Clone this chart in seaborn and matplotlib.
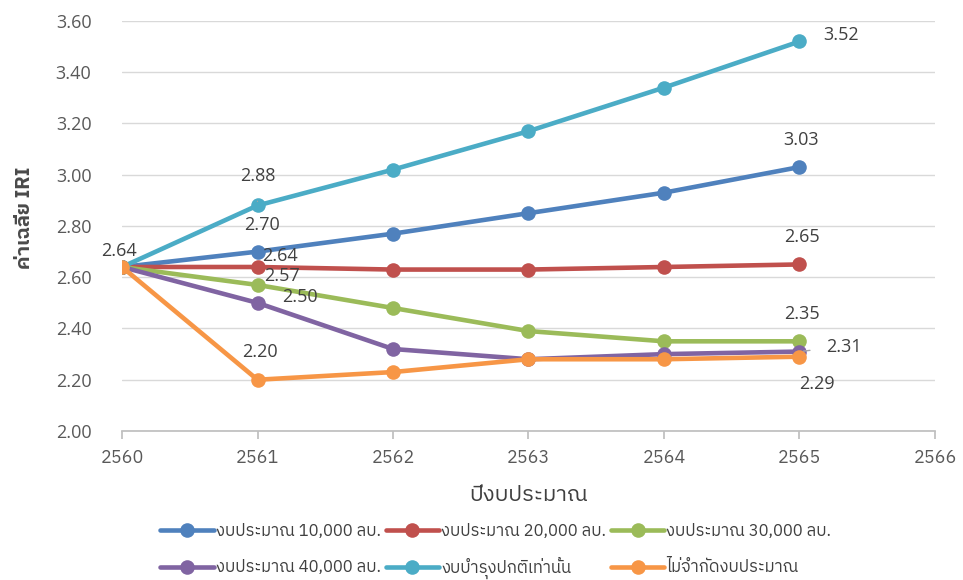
import types
import matplotlib
matplotlib.use("Agg")
import matplotlib.pyplot as plt
from matplotlib import font_manager
from matplotlib.offsetbox import TextArea
from matplotlib.transforms import Bbox
import seaborn as sns
import pandas as pd

# ---- data -------------------------------------------------------------
years = [2560, 2561, 2562, 2563, 2564, 2565]
series_names = [
    "งบประมาณ 10,000 ลบ.",
    "งบประมาณ 20,000 ลบ.",
    "งบประมาณ 30,000 ลบ.",
    "งบประมาณ 40,000 ลบ.",
    "งบบำรุงปกติเท่านั้น",
    "ไม่จำกัดงบประมาณ",
]
budget_10k = [2.64, 2.70, 2.77, 2.85, 2.93, 3.03]
budget_20k = [2.64, 2.64, 2.63, 2.63, 2.64, 2.65]
budget_30k = [2.64, 2.57, 2.48, 2.39, 2.35, 2.35]
budget_40k = [2.64, 2.50, 2.32, 2.28, 2.30, 2.31]
maintenance_only = [2.64, 2.88, 3.02, 3.17, 3.34, 3.52]
unlimited = [2.64, 2.20, 2.23, 2.28, 2.28, 2.29]
colors = ["#4F81BD", "#C0504D", "#9BBB59", "#8064A2", "#4BACC6", "#F79646"]
y_ticks = [2.00, 2.20, 2.40, 2.60, 2.80, 3.00, 3.20, 3.40, 3.60]
x_ticks = [2560, 2561, 2562, 2563, 2564, 2565, 2566]

all_values = [budget_10k, budget_20k, budget_30k, budget_40k, maintenance_only, unlimited]
df = pd.DataFrame(
    [(y, v, name) for name, vals in zip(series_names, all_values) for y, v in zip(years, vals)],
    columns=["year", "iri", "scenario"],
)


def find_thai_font():
    """Pick an installed font that covers the Thai block."""
    try:
        from fontTools.ttLib import TTFont
    except Exception:
        return None
    preferred, others = [], []
    for f in font_manager.fontManager.ttflist:
        try:
            tt = TTFont(f.fname, fontNumber=0, lazy=True)
            cmap = tt.getBestCmap()
            if cmap and 0x0E07 in cmap and 0x0E1A in cmap:
                (preferred if "Sans" in f.name else others).append(f.name)
        except Exception:
            continue
    for lst in (preferred, others):
        if lst:
            return lst[0]
    return None


def installed(name):
    return any(f.name == name for f in font_manager.fontManager.ttflist)


sns.set_theme(style="white")
thai = find_thai_font()
families = [thai, "DejaVu Sans"] if thai else ["DejaVu Sans"]
plt.rcParams["font.family"] = families
num_family = ["Open Sans", "DejaVu Sans"] if installed("Open Sans") else ["DejaVu Sans"]
narrow_family = (["Liberation Sans Narrow"] + families) if installed("Liberation Sans Narrow") else families

fig = plt.figure(figsize=(9.63, 5.80), dpi=100)
ax = fig.add_axes([0.1267, 0.2569, 0.8442, 0.7069])

sns.lineplot(
    data=df, x="year", y="iri", hue="scenario", hue_order=series_names,
    palette=colors, marker="o", markersize=10.5, markeredgewidth=0,
    linewidth=3.3, ax=ax, legend=True, zorder=3,
)

ax.set_xlim(2560, 2566)
ax.set_ylim(2.0, 3.6)
ax.set_yticks(y_ticks)
ax.set_yticklabels([f"{t:.2f}" for t in y_ticks], fontsize=13, color="#595959",
                   family=num_family)
ax.set_xticks(x_ticks)
ax.set_xticklabels([str(t) for t in x_ticks], fontsize=13, color="#595959",
                   family=narrow_family)
ax.grid(axis="y", color="#D9D9D9", linewidth=1)
ax.grid(axis="x", visible=False)
for side in ("top", "right", "left"):
    ax.spines[side].set_visible(False)
ax.spines["bottom"].set_color("#BFBFBF")
ax.tick_params(axis="x", which="both", bottom=True, length=6, color="#BFBFBF", pad=7)
ax.tick_params(axis="y", length=0, pad=22)

ax.set_xlabel("ปีงบประมาณ", fontsize=16, color="#404040", labelpad=12)
ax.set_ylabel("ค่าเฉลี่ย IRI", fontsize=14.5, color="#4A4A4A", fontweight="bold")
ax.yaxis.set_label_coords(-0.108, 0.52)

# ---- data labels (value, offset in pixels, leader line) ----------------
label_specs = [
    (unlimited, 0, (-3, 16), False),
    (maintenance_only, 1, (0, 29), True),
    (budget_10k, 1, (4, 27), False),
    (budget_20k, 1, (22, 11), False),
    (budget_30k, 1, (24, 9), False),
    (budget_40k, 1, (42, 6), False),
    (unlimited, 1, (2, 28), False),
    (maintenance_only, 5, (42, 6), False),
    (budget_10k, 5, (2, 27), False),
    (budget_20k, 5, (2, 27), False),
    (budget_30k, 5, (2, 27), False),
    (budget_40k, 5, (44, 5), True),
    (unlimited, 5, (17, -27), False),
]
for vals, idx, (dx, dy), leader in label_specs:
    kw = {}
    if leader:
        kw["arrowprops"] = dict(arrowstyle="-", color="#A6A6A6", lw=1, shrinkA=9, shrinkB=3)
    ax.annotate(
        f"{vals[idx]:.2f}", xy=(years[idx], vals[idx]), xytext=(dx, dy),
        textcoords="offset pixels", ha="center", va="center",
        fontsize=13, color="#404040", family=num_family, zorder=5, **kw,
    )

# legend: 3 columns, filled row by row
handles, labels = ax.get_legend_handles_labels()
order = [0, 3, 1, 4, 2, 5]
leg = ax.legend(
    [handles[i] for i in order], [labels[i] for i in order],
    loc="center", bbox_to_anchor=(0.46, -0.288), ncol=3, frameon=False,
    fontsize=12, handlelength=3.2, handletextpad=0.12, columnspacing=0.3,
    labelspacing=1.25, labelcolor="#404040",
)


# Thai vowel and tone stacks change each label's ink height; give every
# label box the same line metrics so rows share one baseline.
def _uniform_bbox(self, renderer):
    bb = TextArea.get_bbox(self, renderer)
    _, h_, d_ = renderer.get_text_width_height_descent(
        "lp", self._text._fontproperties, ismath=False)
    return Bbox.from_bounds(bb.x0, -d_, bb.width, h_)


for column in leg._legend_handle_box.get_children():
    for item in column.get_children():
        for child in item.get_children():
            if isinstance(child, TextArea):
                child.get_bbox = types.MethodType(_uniform_bbox, child)

fig.savefig("out.png", dpi=100)
